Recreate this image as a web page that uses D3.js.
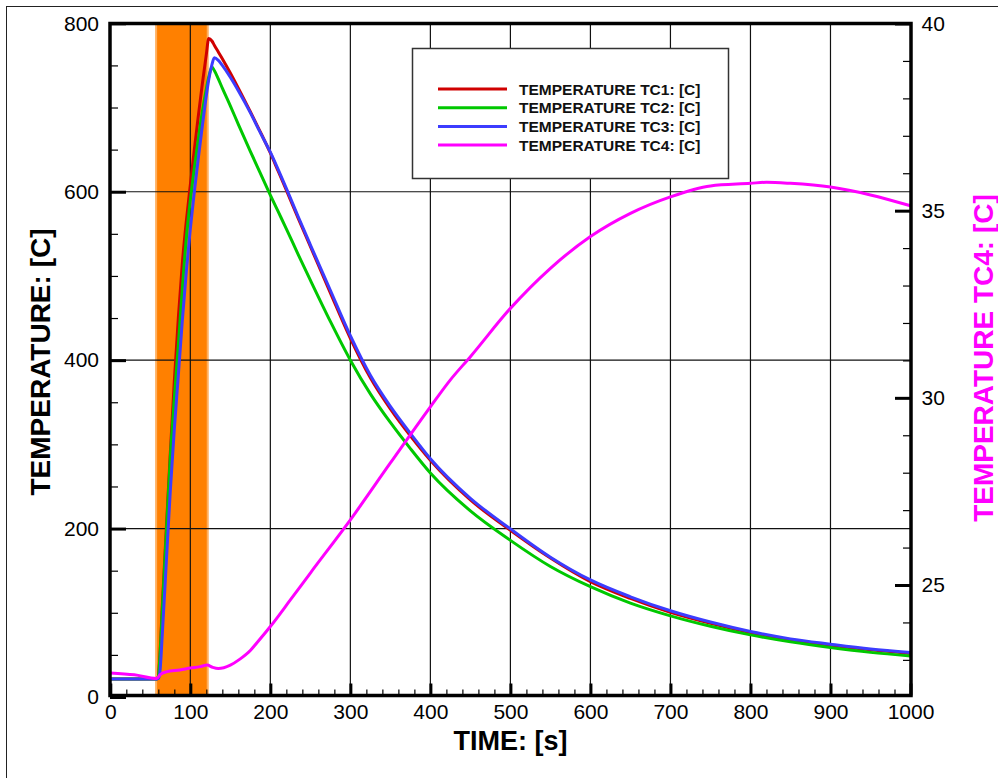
<!DOCTYPE html>
<html>
<head>
<meta charset="utf-8">
<script src="https://cdn.jsdelivr.net/npm/d3@7"></script>
<style>
  body { margin: 0; background: #fff; }
  svg { display: block; font-family: "Liberation Sans", Arial, sans-serif; }
</style>
</head>
<body>
<svg id="chart"></svg>
<script>
// time axis for the three furnace thermocouples
const tcTime = [0, 58, 60, 62, 65, 70, 75, 80, 85, 90, 95, 100, 105, 110, 115, 120, 123, 127, 130, 135,
    140, 150, 160, 175, 187, 200, 210, 220, 235, 250, 275, 300, 325, 350, 375, 400, 450, 500, 550, 600,
    650, 700, 750, 800, 850, 900, 950, 1000];
const tc1 = [21.5, 21.5, 24, 50, 108, 200, 290, 375, 450, 515, 565, 608, 650, 690, 728, 763, 782, 779, 774, 766,
    758, 741, 723, 695, 672, 646, 624, 602, 568, 535, 480, 426, 379, 342, 310, 281, 234, 198, 165, 137,
    117, 100.5, 87.5, 76.6, 68, 61.5, 56, 51.6];
const tc2 = [21.5, 21.5, 24, 48, 104, 195, 285, 355, 418, 485, 545, 590, 628, 663, 695, 722, 736, 748, 744, 734,
    723, 702, 680, 648, 623, 596, 576, 556, 525, 495, 446, 400, 360, 326, 295, 266, 221, 186, 155, 131,
    111.5, 96.4, 84, 73.8, 65.5, 58.7, 53, 48.8];
const tc3 = [21.5, 21.5, 22, 30, 75, 160, 245, 318, 382, 447, 505, 556, 600, 640, 678, 714, 733, 751, 759, 756,
    750, 736, 720, 694, 671, 647, 626, 604, 570, 537, 483, 429, 382, 345, 313, 283, 236, 199.6, 166, 139,
    119, 102.4, 89, 77.8, 69, 62.7, 57, 52.8];

// TC4 on the right axis
const tc4Time = [0, 30, 58, 62, 70, 87, 100, 112, 121, 128, 135, 150, 162, 175, 183, 200, 225, 250, 300, 350,
    400, 425, 450, 500, 550, 600, 650, 700, 750, 800, 820, 850, 900, 950, 1000];
const tc4 = [22.65, 22.6, 22.5, 22.6, 22.68, 22.73, 22.78, 22.82, 22.86, 22.8, 22.77, 22.86, 23.02, 23.25, 23.45, 23.89, 24.6, 25.32, 26.74, 28.26,
    29.76, 30.48, 31.1, 32.39, 33.46, 34.31, 34.93, 35.37, 35.66, 35.73, 35.76, 35.73, 35.63, 35.42, 35.13];

// heating window (orange band), seconds
const heatWindow = [56, 123];

const seriesNames = ["TEMPERATURE TC1: [C]", "TEMPERATURE TC2: [C]", "TEMPERATURE TC3: [C]", "TEMPERATURE TC4: [C]"];
const xTicks = [0, 100, 200, 300, 400, 500, 600, 700, 800, 900, 1000];
const yTicks = [0, 200, 400, 600, 800];
const y2Ticks = [25, 30, 35, 40];

const colors = ["#d00000", "#00c800", "#3c3cff", "#ff00ff"];

const width = 998, height = 778;
const plotLeft = 110, plotRight = 911, plotTop = 23.5, plotBottom = 695.5;

const svg = d3.select("#chart").attr("width", width).attr("height", height);

// outer thin frame of the figure
svg.append("rect")
    .attr("x", 6.5).attr("y", 6.5)
    .attr("width", 1000).attr("height", 800)
    .attr("fill", "#fff").attr("stroke", "#222").attr("stroke-width", 1);

let x = d3.scaleLinear().domain([0, 1000]).range([110.3, 910.5]);
let y = d3.scaleLinear().domain([0, 800]).range([697, 23.3]);
let y2 = d3.scaleLinear().domain([22, 40]).range([697.3, 23.5]);

// heating band
svg.append("rect")
    .attr("x", x(heatWindow[0])).attr("y", plotTop)
    .attr("width", x(heatWindow[1]) - x(heatWindow[0])).attr("height", plotBottom - plotTop)
    .attr("fill", "#ffb060");
svg.append("rect")
    .attr("x", x(heatWindow[0]) + 2).attr("y", plotTop)
    .attr("width", x(heatWindow[1]) - x(heatWindow[0]) - 4).attr("height", plotBottom - plotTop)
    .attr("fill", "#ff8000");

// grid
let grid = svg.append("g").attr("stroke", "#111").attr("stroke-width", 1.2);
grid.selectAll("line.v")
    .data(xTicks.slice(1, -1))
    .enter().append("line")
    .attr("class", "v")
    .attr("x1", d => x(d)).attr("x2", d => x(d))
    .attr("y1", plotTop).attr("y2", plotBottom);
grid.selectAll("line.h")
    .data(yTicks.slice(1, -1))
    .enter().append("line")
    .attr("class", "h")
    .attr("x1", plotLeft).attr("x2", plotRight)
    .attr("y1", d => y(d)).attr("y2", d => y(d));

// curves
let line = d3.line().curve(d3.curveMonotoneX);
[tc1, tc2, tc3].forEach((vals, i) => {
    svg.append("path")
        .attr("d", line(tcTime.map((t, k) => [x(t), y(vals[k])])))
        .attr("fill", "none")
        .attr("stroke", colors[i])
        .attr("stroke-width", 3);
});
svg.append("path")
    .attr("d", line(tc4Time.map((t, k) => [x(t), y2(tc4[k])])))
    .attr("fill", "none")
    .attr("stroke", colors[3])
    .attr("stroke-width", 3);

// legend
let legend = svg.append("g");
legend.append("rect")
    .attr("x", 412.5).attr("y", 48.5)
    .attr("width", 316).attr("height", 130)
    .attr("fill", "#fff").attr("stroke", "#333").attr("stroke-width", 1.5);
seriesNames.forEach((name, i) => {
    let ly = 89 + i * 18.7;
    legend.append("line")
        .attr("x1", 438).attr("x2", 507)
        .attr("y1", ly).attr("y2", ly)
        .attr("stroke", colors[i]).attr("stroke-width", 3);
    legend.append("text")
        .attr("x", 519).attr("y", ly + 5.5)
        .attr("font-size", 15.5).attr("font-weight", "bold")
        .attr("fill", "#111")
        .text(name);
});

// axes: ticks point inward
function styleAxis(g, w) {
    g.select(".domain").remove();
    g.selectAll(".tick line").attr("stroke", "#000").attr("stroke-width", w);
    g.selectAll("text").attr("font-size", 21).attr("fill", "#000");
}

svg.append("g").attr("transform", `translate(0,${plotBottom})`)
    .call(d3.axisBottom(x).tickValues(d3.range(0, 1001, 20)).tickSize(-6).tickFormat(""))
    .call(g => styleAxis(g, 1.2));
svg.append("g").attr("transform", `translate(0,${plotBottom})`)
    .call(d3.axisBottom(x).tickValues(xTicks).tickSize(-12).tickPadding(8.5).tickFormat(d3.format("d")))
    .call(g => styleAxis(g, 3));

svg.append("g").attr("transform", `translate(${plotLeft},0)`)
    .call(d3.axisLeft(y).tickValues(d3.range(0, 801, 50)).tickSize(-8).tickFormat(""))
    .call(g => styleAxis(g, 1.2));
svg.append("g").attr("transform", `translate(${plotLeft},0)`)
    .call(d3.axisLeft(y).tickValues(yTicks).tickSize(-16).tickPadding(11))
    .call(g => styleAxis(g, 3));

svg.append("g").attr("transform", `translate(${plotRight},0)`)
    .call(d3.axisRight(y2).tickValues(d3.range(23, 41, 1)).tickSize(-8).tickFormat(""))
    .call(g => styleAxis(g, 1.2));
svg.append("g").attr("transform", `translate(${plotRight},0)`)
    .call(d3.axisRight(y2).tickValues(y2Ticks).tickSize(-16).tickPadding(10.5))
    .call(g => styleAxis(g, 3));

// thick plot frame
svg.append("rect")
    .attr("x", plotLeft).attr("y", plotTop)
    .attr("width", plotRight - plotLeft).attr("height", plotBottom - plotTop)
    .attr("fill", "none").attr("stroke", "#000").attr("stroke-width", 3.5);

// titles
svg.append("text")
    .attr("x", (plotLeft + plotRight) / 2).attr("y", 750)
    .attr("text-anchor", "middle")
    .attr("font-size", 27).attr("font-weight", "bold")
    .text("TIME: [s]");
svg.append("text")
    .attr("transform", "translate(50,362) rotate(-90)")
    .attr("text-anchor", "middle")
    .attr("font-size", 28).attr("font-weight", "bold")
    .text("TEMPERATURE: [C]");
svg.append("text")
    .attr("transform", "translate(993,358) rotate(-90)")
    .attr("text-anchor", "middle")
    .attr("font-size", 28).attr("font-weight", "bold")
    .attr("fill", "#ff00ff")
    .text("TEMPERATURE TC4: [C]");
</script>
</body>
</html>
